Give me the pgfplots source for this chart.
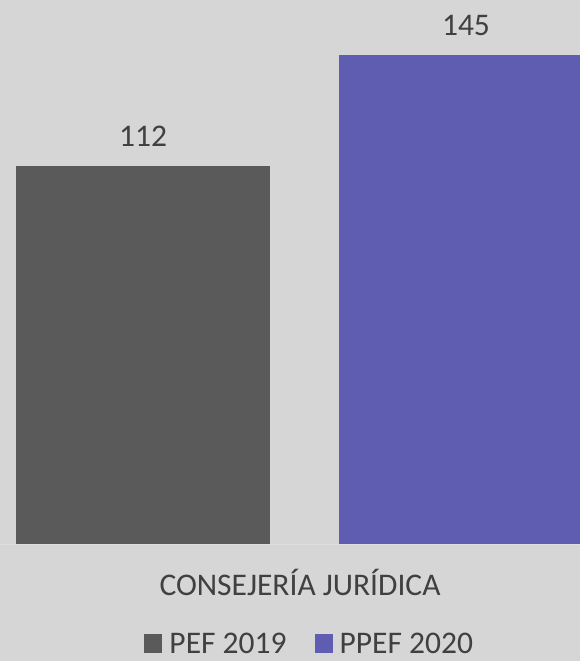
\documentclass[border=0pt]{standalone}
\usepackage{fontspec}
\setmainfont{Carlito}
\usepackage{pgfplots}
\pgfplotsset{compat=1.18}
\definecolor{bgc}{RGB}{214,214,214}
\definecolor{pef}{RGB}{90,90,90}
\definecolor{ppef}{RGB}{95,93,177}
\definecolor{txt}{RGB}{64,64,64}
\definecolor{axl}{RGB}{222,222,222}

\begin{document}
\begin{tikzpicture}
\useasboundingbox (0,0) rectangle (580pt,661pt);
\fill[bgc] (0,0) rectangle (580pt,661pt);
\begin{axis}[
  at={(0pt,117pt)}, anchor=south west,
  width=580pt, height=544pt, scale only axis,
  xmin=-0.443, xmax=1.353, ymin=0, ymax=161.2,
  ybar, bar width=0.786, bar shift=0pt,
  axis x line=bottom, axis y line=none,
  x axis line style={draw=axl, -},
  xtick={0.486}, xticklabels={CONSEJERÍA JURÍDICA},
  major tick length=0pt, ytick=\empty,
  xticklabel style={font=\fontsize{31.5}{38}\selectfont, text=txt, anchor=base, yshift=-51pt},
  /pgf/number format/assume math mode=true,
  nodes near coords,
  every node near coord/.append style={font=\fontsize{31.5}{38}\selectfont, text=txt, inner sep=0pt, yshift=19pt},
  legend style={at={(0.534,-0.183)}, anchor=center, draw=none, fill=none,
    legend columns=2, font=\fontsize{31.5}{38}\selectfont, text=txt,
    /tikz/every odd column/.append style={column sep=5pt},
    /tikz/every even column/.append style={column sep=26pt}},
  legend image code/.code={\fill[#1] (0pt,-9pt) rectangle (18pt,10pt);},
]
\addplot[fill=pef, draw=none] coordinates {(0,112)};
\addplot[fill=ppef, draw=none] coordinates {(1,145)};
\legend{PEF 2019, PPEF 2020}
\end{axis}
\end{tikzpicture}
\end{document}
